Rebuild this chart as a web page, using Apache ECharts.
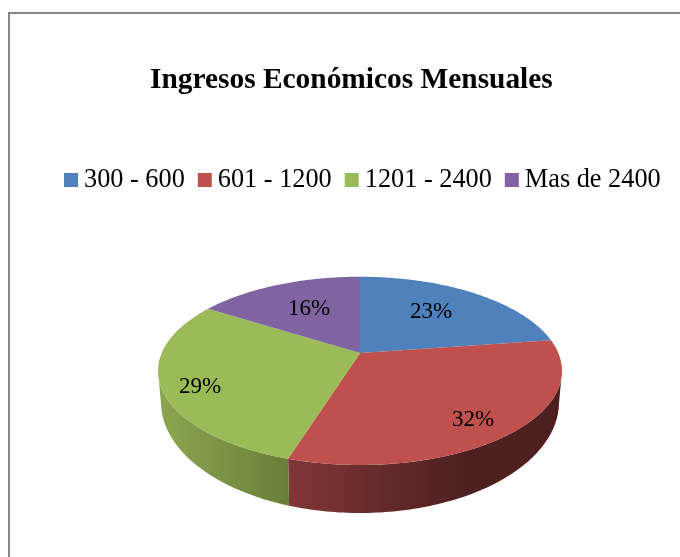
<!DOCTYPE html>
<html>
<head>
<meta charset="utf-8">
<title>Ingresos Económicos Mensuales</title>
<script src="https://cdn.jsdelivr.net/npm/echarts@6/dist/echarts.min.js"></script>
<style>
html, body { margin: 0; padding: 0; background: #fff; }
#chart { width: 680px; height: 557px; }
</style>
</head>
<body>
<div id="chart"></div>
<script type="text/javascript">
var chartTitle = 'Ingresos Económicos Mensuales';
var categories = ['300 - 600', '601 - 1200', '1201 - 2400', 'Mas de 2400'];
var shares = [22.7, 32.1, 29.2, 16];
var colors = ['#4f81bd', '#c0504d', '#9bbb59', '#8064a2'];
var labelCenters = [[431, 312], [473, 420], [200, 387], [309, 309]];

// the pie is tilted with perspective, echarts pie only draws circles so project it by hand
var cx = 360, apexY = 353, k = 0.1896, rx = 198.3, ryTop = 23.8;
var baseRx = 199, baseCy = 402, baseRy = 111;
var wallFrom = 101, wallTo = 259;

function rimPoint(deg) {
	var a = deg * Math.PI / 180;
	var u = Math.sin(a), v = -Math.cos(a);
	var d = 1 - k * v;
	return [cx + rx * u / d, (ryTop * v + apexY) / d];
}

function basePoint(top) {
	var x = cx + (top[0] - cx) * baseRx / 202;
	var t = (x - cx) / baseRx;
	return [x, baseCy + baseRy * Math.sqrt(Math.max(0, 1 - t * t))];
}

var wallFills = {
	1: new echarts.graphic.LinearGradient(288, 0, 560, 0, [
		{offset: 0, color: '#823636'},
		{offset: 0.35, color: '#642a2a'},
		{offset: 0.65, color: '#4e2020'},
		{offset: 1, color: '#4d1f1f'}
	], true),
	2: new echarts.graphic.LinearGradient(160, 0, 288, 0, [
		{offset: 0, color: '#8ca64f'},
		{offset: 1, color: '#6a7f3a'}
	], true)
};

function makeRender(index) {
	return function (params, api) {
		var startDeg = api.value(0) * 3.6;
		var endDeg = startDeg + api.value(1) * 3.6;
		var children = [];

		// side wall, only the front part of the rim shows one
		var a = Math.max(startDeg, wallFrom), b = Math.min(endDeg, wallTo);
		if (a < b) {
			var upper = [], lower = [];
			for (var w = a; w <= b; w += 1) {
				var p = rimPoint(w);
				upper.push(p);
				lower.unshift(basePoint(p));
			}
			var last = rimPoint(b);
			upper.push(last);
			lower.unshift(basePoint(last));
			children.push({
				type: 'polygon',
				shape: {points: upper.concat(lower)},
				style: {fill: wallFills[index] || colors[index]}
			});
		}

		var pts = [[cx, apexY]];
		for (var t = startDeg; t < endDeg; t += 1) {
			pts.push(rimPoint(t));
		}
		pts.push(rimPoint(endDeg));
		children.push({
			type: 'polygon',
			shape: {points: pts},
			style: {fill: colors[index]}
		});

		children.push({
			type: 'text',
			z2: 10,
			style: {
				x: labelCenters[index][0],
				y: labelCenters[index][1],
				text: Math.round(api.value(1)) + '%',
				fill: '#000',
				font: '23px "Liberation Serif"',
				align: 'center',
				verticalAlign: 'middle'
			}
		});
		return {type: 'group', children: children};
	};
}

var seriesList = [];
var running = 0;
for (var i = 0; i < categories.length; i++) {
	seriesList.push({
		type: 'custom',
		name: categories[i],
		coordinateSystem: 'none',
		itemStyle: {color: colors[i]},
		renderItem: makeRender(i),
		data: [[running, shares[i]]]
	});
	running += shares[i];
}

var myChart = echarts.init(document.getElementById('chart'), null, {renderer: 'canvas'});
myChart.setOption({
	animation: false,
	backgroundColor: '#fff',
	title: {
		text: chartTitle,
		left: 145,
		top: 61,
		textStyle: {
			fontFamily: 'Liberation Serif',
			fontWeight: 'bold',
			fontSize: 29.4,
			color: '#000'
		}
	},
	legend: {
		left: 59,
		top: 162,
		itemWidth: 14,
		itemHeight: 14,
		itemGap: 13,
		icon: 'rect',
		data: categories,
		textStyle: {
			fontFamily: 'Liberation Serif',
			fontSize: 26.3,
			color: '#000',
			padding: [0, 0, 0, 1]
		}
	},
	graphic: [{
		type: 'rect',
		silent: true,
		shape: {x: 9, y: 13, width: 720, height: 600},
		style: {fill: 'none', stroke: '#868686', lineWidth: 2}
	}],
	series: seriesList
});
</script>
</body>
</html>
